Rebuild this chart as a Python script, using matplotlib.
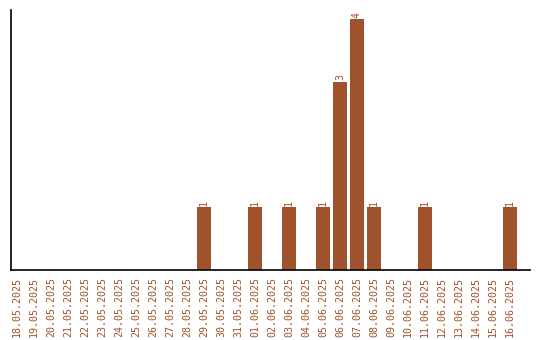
import matplotlib
matplotlib.use("Agg")
import matplotlib.pyplot as plt
import datetime as dt

# daily counts, 18.05.2025 .. 16.06.2025
start = dt.date(2025, 5, 18)
dates = [(start + dt.timedelta(days=i)).strftime("%d.%m.%Y") for i in range(30)]
counts = [0]*30
hits = {"29.05.2025": 1, "01.06.2025": 1, "03.06.2025": 1, "05.06.2025": 1,
        "06.06.2025": 3, "07.06.2025": 4, "08.06.2025": 1, "11.06.2025": 1,
        "16.06.2025": 1}
for d, v in hits.items():
    counts[dates.index(d)] = v

color = "#A0522D"

fig = plt.figure(figsize=(5.4, 3.4), dpi=100)
ax = fig.add_axes([0.0204, 0.2059, 0.9611, 0.7647])

x = list(range(len(dates)))
ax.bar(x, counts, width=0.82, color=color)
for xi, v in zip(x, counts):
    if v > 0:
        ax.text(xi, v + 0.02, str(v), rotation=90, ha="center", va="bottom",
                color=color, fontsize=7.2, family="DejaVu Sans Mono")

ax.set_xlim(-0.35, 30.18)
ax.set_ylim(0, 4.14)
ax.set_xticks(x)
ax.set_xticklabels(dates, rotation=90, color=color, fontsize=7.2,
                   family="DejaVu Sans Mono")
ax.set_yticks([])
ax.tick_params(axis="x", length=0, pad=5)
ax.spines["top"].set_visible(False)
ax.spines["right"].set_visible(False)
ax.spines["left"].set_linewidth(1.2)
ax.spines["bottom"].set_linewidth(1.2)

fig.savefig("out.png", dpi=100)
